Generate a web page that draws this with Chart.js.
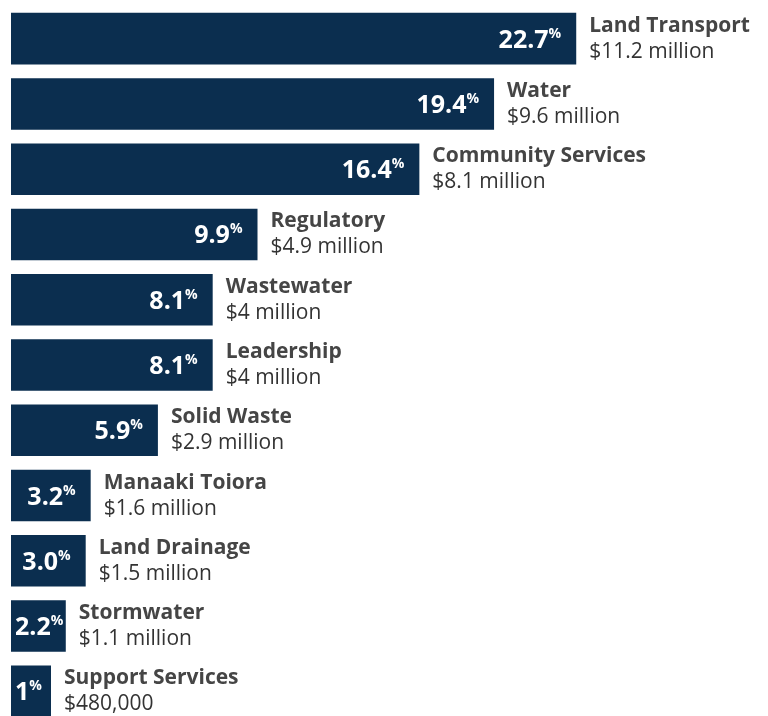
<!DOCTYPE html>
<html>
<head>
<meta charset="utf-8">
<title>Operating spend by activity</title>
<script src="https://cdn.jsdelivr.net/npm/chart.js@4.4.1/dist/chart.umd.min.js"></script>
<style>
  html, body { margin: 0; padding: 0; background: #fff; overflow: hidden; }
  #wrap { width: 768px; height: 724px; }
</style>
</head>
<body>
<div id="wrap"><canvas id="spendChart" width="768" height="724"></canvas></div>
<script>
// activities, share of total spend (%) and dollar amount ($ million)
const categories = ['Land Transport', 'Water', 'Community Services', 'Regulatory', 'Wastewater',
  'Leadership', 'Solid Waste', 'Manaaki Toiora', 'Land Drainage', 'Stormwater', 'Support Services'];
const shares = [22.7, 19.4, 16.4, 9.9, 8.1, 8.1, 5.9, 3.2, 3.0, 2.2, 1];
const shareLabels = ['22.7', '19.4', '16.4', '9.9', '8.1', '8.1', '5.9', '3.2', '3.0', '2.2', '1'];
const amountsMillion = [11.2, 9.6, 8.1, 4.9, 4, 4, 2.9, 1.6, 1.5, 1.1, 0.48];

const NAVY = '#0b2e4f';
const FONT = '"Open Sans", "Noto Sans", sans-serif';

function formatAmount(m) {
  if (m >= 1) return '$' + m + ' million';
  return '$' + Math.round(m * 1e6).toLocaleString('en-US');
}

// draws the % inside each bar and the name + amount to its right
const barLabels = {
  id: 'barLabels',
  afterDatasetsDraw(chart) {
    const ctx = chart.ctx;
    const meta = chart.getDatasetMeta(0);
    ctx.save();
    meta.data.forEach((bar, i) => {
      const left = bar.base;
      const right = bar.x;
      const cy = bar.y;

      // percentage, right aligned inside the bar with a small superscript %
      ctx.font = 'bold 25px ' + FONT;
      const numW = ctx.measureText(shareLabels[i]).width;
      ctx.font = 'bold 14px ' + FONT;
      const pctW = ctx.measureText('%').width;
      let end = right - 15;
      if (end - numW - pctW < left + 4) end = left + 4 + numW + pctW;
      ctx.fillStyle = '#ffffff';
      ctx.textBaseline = 'alphabetic';
      ctx.textAlign = 'left';
      ctx.font = 'bold 25px ' + FONT;
      ctx.fillText(shareLabels[i], end - numW - pctW, cy + 9);
      ctx.font = 'bold 14px ' + FONT;
      ctx.fillText('%', end - pctW, cy - 1);

      // activity name and amount
      const tx = right + 13;
      ctx.fillStyle = '#454545';
      ctx.font = 'bold 21px ' + FONT;
      ctx.fillText(categories[i], tx, cy - 7);
      ctx.fillStyle = '#333333';
      ctx.font = '21px ' + FONT;
      ctx.fillText(formatAmount(amountsMillion[i]), tx, cy + 19);
    });
    ctx.restore();
  }
};

new Chart(document.getElementById('spendChart'), {
  type: 'bar',
  data: {
    labels: categories,
    datasets: [{
      data: shares,
      backgroundColor: NAVY,
      borderWidth: 0,
      barPercentage: 0.79,
      categoryPercentage: 1,
      minBarLength: 40
    }]
  },
  options: {
    indexAxis: 'y',
    responsive: false,
    animation: false,
    layout: { padding: { top: 6, left: 11, right: 10, bottom: 0 } },
    scales: {
      x: { display: false, min: 0, max: 30 },
      y: { display: false }
    },
    plugins: {
      legend: { display: false },
      tooltip: { enabled: false }
    }
  },
  plugins: [barLabels]
});
</script>
</body>
</html>
